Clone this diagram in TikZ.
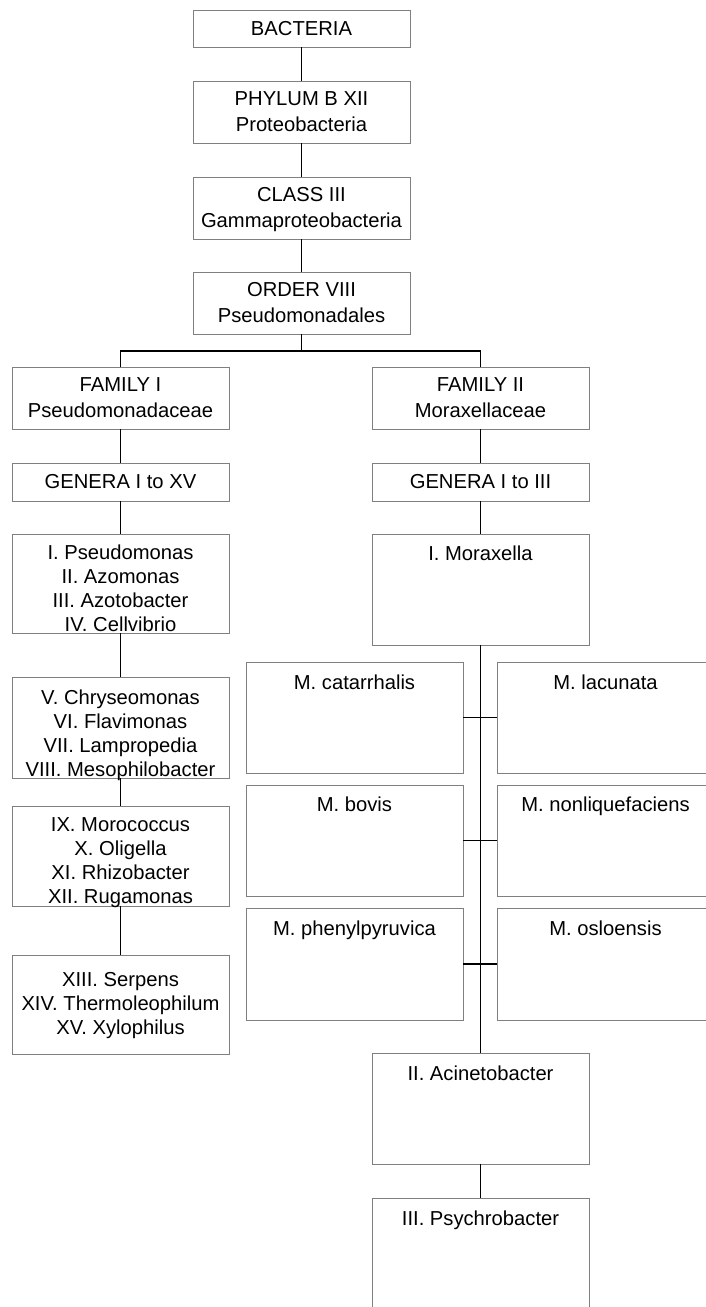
\documentclass[tikz,border=0pt]{standalone}
\usepackage{fontspec}
\setmainfont{Liberation Sans}
\begin{document}
\begin{tikzpicture}[x=1pt,y=-1pt,
  box/.style={draw=black!50, line width=0.9pt, inner sep=0pt, outer sep=0pt, anchor=north west, minimum width=217pt},
  txt/.style={font=\fontsize{20.2}{24}\selectfont, align=center, inner sep=0pt, anchor=north},
  txttwo/.style={txt, font=\fontsize{20.2}{26}\selectfont},
  con/.style={draw=black, line width=1.9pt}]
\useasboundingbox (0,0) rectangle (706,1307);
\clip (0,0) rectangle (706,1307);
% top column
\node[box, minimum height=37pt] (bact) at (193,10) {};
\node[txt] (tbact) at (301.5,21.5) {BACTERIA};
\node[box, minimum height=62pt] (phyl) at (193,81) {};
\node[txttwo] (tphyl) at (301.5,91.5) {PHYLUM B XII\\Proteobacteria};
\node[box, minimum height=62pt] (cls) at (193,177) {};
\node[txttwo] (tcls) at (301.5,187.5) {CLASS III\\Gammaproteobacteria};
\node[box, minimum height=62pt] (ord) at (193,272) {};
\node[txttwo] (tord) at (301.5,282.5) {ORDER VIII\\Pseudomonadales};
% families
\node[box, minimum height=62pt] (famI) at (12,367) {};
\node[txttwo] (tfamI) at (120.5,377.5) {FAMILY I\\Pseudomonadaceae};
\node[box, minimum height=62pt] (famII) at (372,367) {};
\node[txttwo] (tfamII) at (480.5,377.5) {FAMILY II\\Moraxellaceae};
% left column
\node[box, minimum height=38pt] (genI) at (12,463) {};
\node[txt] (tgenI) at (120.5,474.5) {GENERA I to XV};
\node[box, minimum height=99pt] (bA) at (12,534) {};
\node[txt] (tbA) at (120.5,545) {I. Pseudomonas\\II. Azomonas\\III. Azotobacter\\IV. Cellvibrio};
\node[box, minimum height=101pt] (bB) at (12,677) {};
\node[txt] (tbB) at (120.5,690) {V. Chryseomonas\\VI. Flavimonas\\VII. Lampropedia\\VIII. Mesophilobacter};
\node[box, minimum height=100pt] (bC) at (12,806) {};
\node[txt] (tbC) at (120.5,817) {IX. Morococcus\\X. Oligella\\XI. Rhizobacter\\XII. Rugamonas};
\node[box, minimum height=99pt] (bD) at (12,955) {};
\node[txt] (tbD) at (120.5,972.5) {XIII. Serpens\\XIV. Thermoleophilum\\XV. Xylophilus};
% right column
\node[box, minimum height=38pt] (genII) at (372,463) {};
\node[txt] (tgenII) at (480.5,474.5) {GENERA I to III};
\node[box, minimum height=111pt] (mor) at (372,534) {};
\node[txt] (tmor) at (480.5,545.5) {I. Moraxella};
\node[box, minimum height=111pt] (cat) at (246,662) {};
\node[txt] (tcat) at (354.5,674.5) {M. catarrhalis};
\node[box, minimum height=111pt] (lac) at (497,662) {};
\node[txt] (tlac) at (605.5,674.5) {M. lacunata};
\node[box, minimum height=111pt] (bov) at (246,785) {};
\node[txt] (tbov) at (354.5,796.5) {M. bovis};
\node[box, minimum height=111pt] (non) at (497,785) {};
\node[txt] (tnon) at (605.5,796.5) {M. nonliquefaciens};
\node[box, minimum height=112pt] (phe) at (246,908) {};
\node[txt] (tphe) at (354.5,920.5) {M. phenylpyruvica};
\node[box, minimum height=112pt] (osl) at (497,908) {};
\node[txt] (tosl) at (605.5,920.5) {M. osloensis};
\node[box, minimum height=111pt] (aci) at (372,1053) {};
\node[txt] (taci) at (480.5,1065.5) {II. Acinetobacter};
\node[box, minimum height=130pt] (psy) at (372,1198) {};
\node[txt] (tpsy) at (480.5,1210.5) {III. Psychrobacter};
% connectors
\coordinate (bar) at (301.5,351);
\draw[con] (bact.south) -- (phyl.north);
\draw[con] (phyl.south) -- (cls.north);
\draw[con] (cls.south) -- (ord.north);
\draw[con] (ord.south) -- (bar);
\draw[con] (famI.north) |- (bar) -| (famII.north);
\draw[con] (famI.south) -- (genI.north);
\draw[con] (genI.south) -- (bA.north);
\draw[con] (bA.south) -- (bB.north);
\draw[con] (bB.south) -- (bC.north);
\draw[con] (bC.south) -- (bD.north);
\draw[con] (famII.south) -- (genII.north);
\draw[con] (genII.south) -- (mor.north);
\draw[con] (mor.south) -- (aci.north);
\draw[con] (aci.south) -- (psy.north);
\draw[con] (cat.east) -- (lac.west);
\draw[con] (bov.east) -- (non.west);
\draw[con] (phe.east) -- (osl.west);
\end{tikzpicture}
\end{document}
